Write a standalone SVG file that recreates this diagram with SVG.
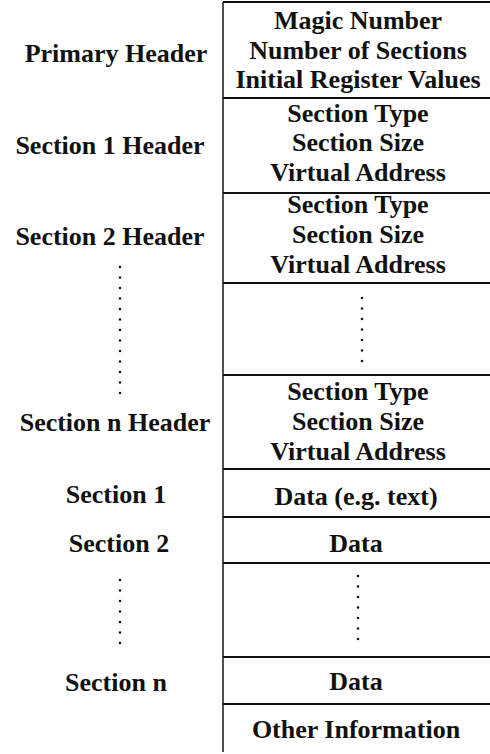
<svg xmlns="http://www.w3.org/2000/svg" width="490" height="754" viewBox="0 0 490 754">
<style>
text{font-weight:700;font-size:26px;fill:#111;text-anchor:middle}
.ln{stroke:#111;stroke-width:2.2;fill:none}
.vl{stroke:#222;stroke-width:1.6;fill:none}
.dots{stroke:#111;stroke-width:2.6;stroke-linecap:round;stroke-dasharray:0 10.5;fill:none}
</style>
<rect width="490" height="754" fill="#fff"/>
<g id="connectors">
<line class="vl" x1="223" y1="2" x2="223" y2="752"/>
<line class="ln" x1="223" y1="2" x2="490" y2="2"/>
<line class="ln" x1="223" y1="98" x2="490" y2="98"/>
<line class="ln" x1="223" y1="193" x2="490" y2="193"/>
<line class="ln" x1="223" y1="283" x2="490" y2="283"/>
<line class="ln" x1="223" y1="375" x2="490" y2="375"/>
<line class="ln" x1="223" y1="469" x2="490" y2="469"/>
<line class="ln" x1="223" y1="517" x2="490" y2="517"/>
<line class="ln" x1="223" y1="563" x2="490" y2="563"/>
<line class="ln" x1="223" y1="657" x2="490" y2="657"/>
<line class="ln" x1="223" y1="704" x2="490" y2="704"/>
</g>
<g id="primary-header">
<text x="116" y="62" font-family="serif">Primary Header</text>
<text x="358" y="29" font-family="serif">Magic Number</text>
<text x="358" y="59" font-family="serif">Number of Sections</text>
<text x="358" y="88" font-family="serif">Initial Register Values</text>
</g>
<g id="section1-header">
<text x="110" y="154" font-family="serif">Section 1 Header</text>
<text x="358" y="122" font-family="serif">Section Type</text>
<text x="358" y="151" font-family="serif">Section Size</text>
<text x="358" y="181" font-family="serif">Virtual Address</text>
</g>
<g id="section2-header">
<text x="110" y="245" font-family="serif">Section 2 Header</text>
<text x="358" y="213" font-family="serif">Section Type</text>
<text x="358" y="243" font-family="serif">Section Size</text>
<text x="358" y="273" font-family="serif">Virtual Address</text>
</g>
<g id="header-ellipsis">
<line class="dots" x1="120" y1="267" x2="120" y2="394"/>
<line class="dots" x1="362" y1="298" x2="362" y2="362"/>
</g>
<g id="sectionn-header">
<text x="115" y="431" font-family="serif">Section n Header</text>
<text x="358" y="400" font-family="serif">Section Type</text>
<text x="358" y="430" font-family="serif">Section Size</text>
<text x="358" y="460" font-family="serif">Virtual Address</text>
</g>
<g id="section1">
<text x="116" y="503" font-family="serif">Section 1</text>
<text x="356" y="505" font-family="serif">Data (e.g. text)</text>
</g>
<g id="section2">
<text x="119" y="552" font-family="serif">Section 2</text>
<text x="356" y="552" font-family="serif">Data</text>
</g>
<g id="section-ellipsis">
<line class="dots" x1="120" y1="580" x2="120" y2="649"/>
<line class="dots" x1="358" y1="576" x2="358" y2="640"/>
</g>
<g id="sectionn">
<text x="116" y="691" font-family="serif">Section n</text>
<text x="356" y="690" font-family="serif">Data</text>
</g>
<g id="other-information">
<text x="356" y="738" font-family="serif">Other Information</text>
</g>
</svg>
